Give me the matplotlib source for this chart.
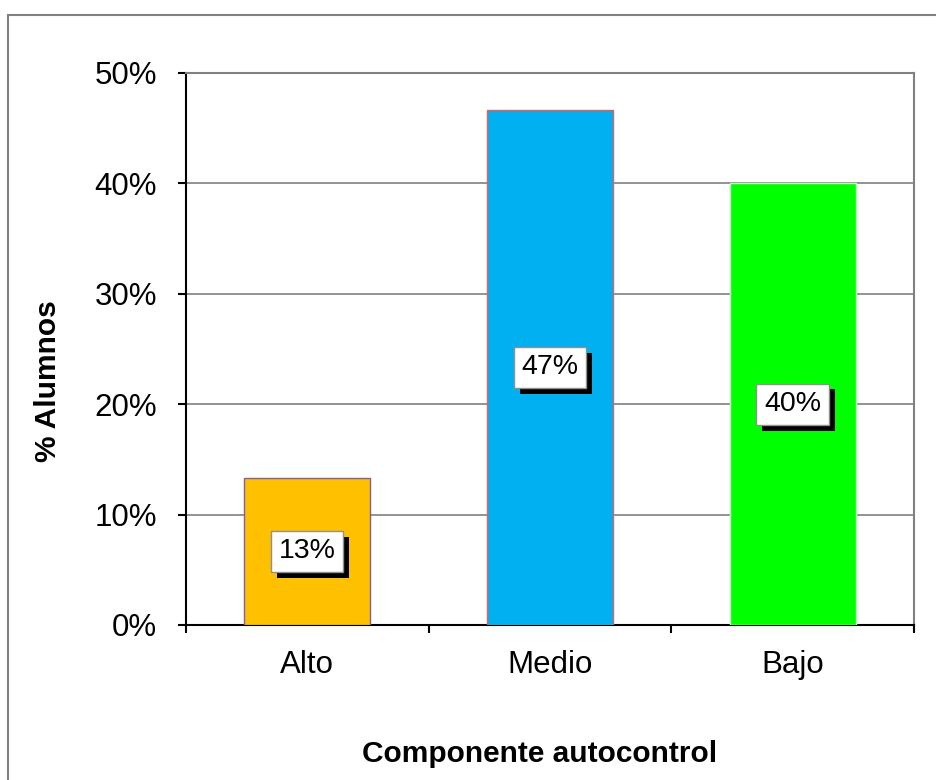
import matplotlib
matplotlib.use("Agg")
import matplotlib.pyplot as plt
from matplotlib.patches import Rectangle
from matplotlib.ticker import FuncFormatter, FixedLocator
import matplotlib.patheffects as pe

plt.rcParams['font.family'] = ['Liberation Sans', 'DejaVu Sans']

categories = ["Alto", "Medio", "Bajo"]
values = [13.33, 46.67, 40.0]
labels = ["13%", "47%", "40%"]
colors = ["#FFC000", "#00B0F0", "#00FF00"]
edgecolors = ["#7F5FA0", "#E06060", "#C0FFC0"]
yticks = [0, 10, 20, 30, 40, 50]

W, H = 936, 780
fig = plt.figure(figsize=(W / 100, H / 100), dpi=100)
fig.patch.set_facecolor("white")

# outer chart border
fig.add_artist(Rectangle((8 / W, -0.05), 1.2, (H - 15) / H + 0.05,
                         transform=fig.transFigure, fill=False,
                         edgecolor="#808080", linewidth=1.5))

left, right = 186 / W, 914 / W
top, bottom = 1 - 73 / H, 1 - 625 / H
ax = fig.add_axes([left, bottom, right - left, top - bottom])

x = list(range(len(categories)))
ax.bar(x, values, width=0.52, color=colors, edgecolor=edgecolors, linewidth=1, zorder=3)

ax.set_xlim(-0.5, 2.5)
ax.set_ylim(0, 50)
ax.set_yticks(yticks)
ax.yaxis.set_major_formatter(FuncFormatter(lambda v, p: f"{int(v)}%"))
ax.grid(axis="y", color="#808080", linewidth=1.2, zorder=0)
ax.set_axisbelow(True)

ax.set_xticks(x)
ax.set_xticklabels(categories)
ax.xaxis.set_minor_locator(FixedLocator([-0.5, 0.5, 1.5, 2.5]))
ax.tick_params(axis="x", which="major", length=0, pad=18, labelsize=22.5)
ax.tick_params(axis="x", which="minor", length=6, width=1.5, direction="out", color="black")
ax.tick_params(axis="y", length=6, width=1.5, direction="out", labelsize=22.5, pad=15)

for s in ["left", "bottom"]:
    ax.spines[s].set_color("black")
    ax.spines[s].set_linewidth(1.5)
for s in ["top", "right"]:
    ax.spines[s].set_color("#808080")
    ax.spines[s].set_linewidth(1.5)

ax.set_ylabel("% Alumnos", fontsize=21.5, fontweight="bold")
ax.yaxis.set_label_coords(-0.170, 0.442)
ax.set_xlabel("Componente autocontrol", fontsize=21.5, fontweight="bold")
ax.xaxis.set_label_coords(0.485, -0.208)

for xi, v, lab in zip(x, values, labels):
    t = ax.text(xi, v / 2, lab, ha="center", va="center", fontsize=20.5, color="black", zorder=5,
                bbox=dict(boxstyle="square,pad=0.27", facecolor="white", edgecolor="#909090", linewidth=1))
    t.get_bbox_patch().set_path_effects([
        pe.SimplePatchShadow(offset=(4.3, -4.3), shadow_rgbFace="black", alpha=1.0),
        pe.Normal()])

fig.savefig("out.png", dpi=100)
